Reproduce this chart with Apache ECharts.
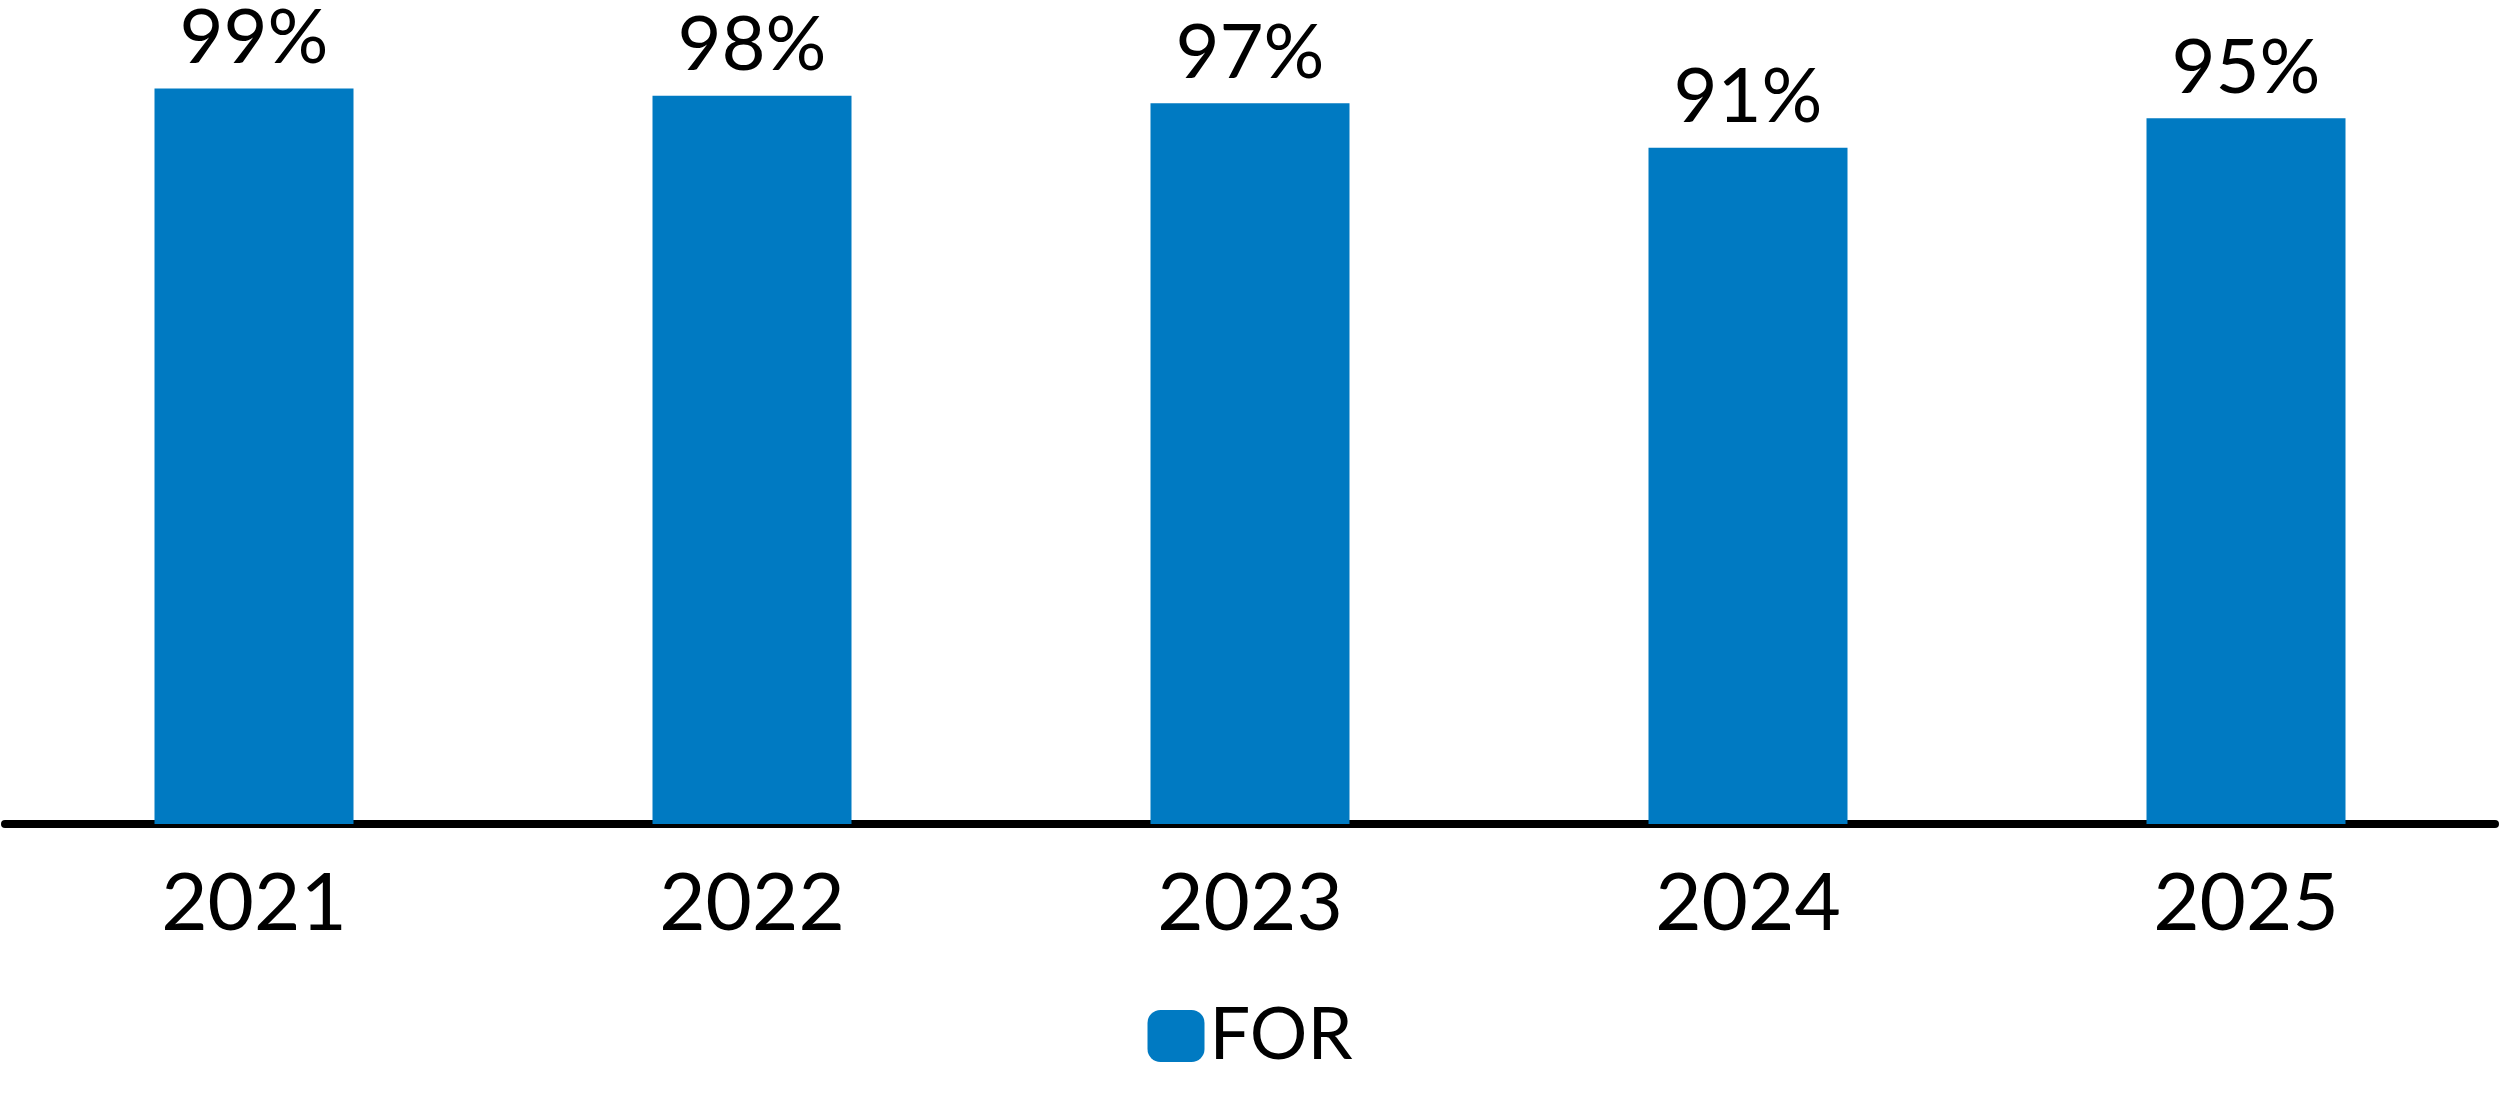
<!DOCTYPE html>
<html>
<head>
<meta charset="utf-8">
<script src="https://cdn.jsdelivr.net/npm/echarts@6/dist/echarts.min.js"></script>
<style>html,body{margin:0;padding:0;background:#fff}#c{width:2500px;height:1095px}</style>
</head>
<body>
<div id="c"></div>
<script>
// data
const years = ['2021', '2022', '2023', '2024', '2025'];
const forValues = [99, 98, 97, 91, 95];
const seriesName = 'FOR';

const chart = echarts.init(document.getElementById('c'));
chart.setOption({
  animation: false,
  textStyle: { fontFamily: 'Lato' },
  grid: { left: 5, right: 5, top: 81, bottom: 271 },
  legend: {
    data: [seriesName],
    bottom: 18,
    left: 'center',
    itemWidth: 57,
    itemHeight: 52,
    itemGap: 20,
    textStyle: { fontSize: 72, color: '#000', fontFamily: 'Lato' }
  },
  xAxis: {
    type: 'category',
    data: years,
    axisLine: { lineStyle: { color: '#000', width: 8 } },
    axisTick: { show: false },
    axisLabel: { fontSize: 80, color: '#000', margin: 40 }
  },
  yAxis: {
    type: 'value', min: 0, max: 100, show: false,
    splitLine: { show: false }
  },
  series: [{
    name: seriesName,
    type: 'bar',
    data: forValues,
    barWidth: 199,
    itemStyle: { color: '#007AC2' },
    label: {
      show: true, position: 'top', distance: 12,
      formatter: '{c}%', fontSize: 76, color: '#000', fontFamily: 'Lato'
    }
  }]
});
</script>
</body>
</html>
